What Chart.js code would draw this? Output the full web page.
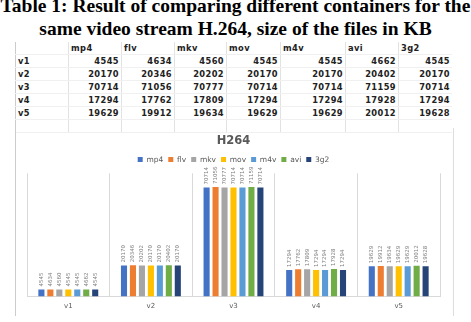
<!DOCTYPE html>
<html>
<head>
<meta charset="utf-8">
<script src="https://cdn.jsdelivr.net/npm/chart.js@4"></script>
<style>
  body { margin: 0; background: #fff; width: 471px; height: 322px; overflow: hidden; position: relative; }
  #title { position: absolute; left: -40px; width: 551px; top: -6px; text-align: center; white-space: nowrap;
           font-family: "Liberation Serif", serif; font-weight: bold; font-size: 19.5px; line-height: 23px; color: #000; }
  table { position: absolute; left: 15px; top: 42px; border-collapse: collapse; table-layout: fixed;
          font-family: "DejaVu Sans", sans-serif; font-weight: bold; font-size: 8.3px; letter-spacing: 0.4px; color: #222; }
  td { height: 12px; padding: 0 2px; border-left: 1px solid #e2e2e2; border-bottom: 1px solid #f0f0f0; text-align: right; overflow: hidden; }
  td:first-child { text-align: left; border-left: 1px solid #ccc; }
  tr.head td { text-align: left; font-weight: bold; }
  #box { position: absolute; left: 15px; top: 128px; width: 437px; height: 188px; border-left: 1px solid #ccc; border-right: 1px solid #ddd; }
</style>
</head>
<body>
<div id="title">Table 1: Result of comparing different containers for the<br>same video stream H.264, size of the files in KB</div>
<table id="tbl"></table>
<div id="box"><canvas id="myChart" width="437" height="188"></canvas></div>
<script>
const categories = ['v1', 'v2', 'v3', 'v4', 'v5']
const containers = ['mp4', 'flv', 'mkv', 'mov', 'm4v', 'avi', '3g2']
const mp4 = [4545, 20170, 70714, 17294, 19629]
const flv = [4634, 20346, 71056, 17762, 19912]
const mkv = [4560, 20202, 70777, 17809, 19634]
const mov = [4545, 20170, 70714, 17294, 19629]
const m4v = [4545, 20170, 70714, 17294, 19629]
const avi = [4662, 20402, 71159, 17928, 20012]
const g32 = [4545, 20170, 70714, 17294, 19628]

const series = [mp4, flv, mkv, mov, m4v, avi, g32]
const colors = ['#4472C4', '#ED7D31', '#A5A5A5', '#FFC000', '#5B9BD5', '#70AD47', '#264478']
const colWidths = [53, 53, 53, 52, 54, 65, 53, 54]

// table above the chart
const tbl = document.getElementById('tbl')
let html = '<tr class="head">' + ['', ...containers].map((c, i) => `<td style="width:${colWidths[i] - 5}px">${c}</td>`).join('') + '</tr>'
categories.forEach((cat, r) => {
  html += '<tr><td>' + cat + '</td>' + series.map(s => '<td>' + s[r] + '</td>').join('') + '</tr>'
})
html += '<tr>' + colWidths.map(() => '<td></td>').join('') + '</tr>'
tbl.innerHTML = html

// rotated value labels above each bar
const barLabels = {
  id: 'barLabels',
  afterDatasetsDraw(chart) {
    const ctx = chart.ctx
    ctx.save()
    ctx.font = '5.5px "DejaVu Sans"'
    ctx.fillStyle = '#7f7f7f'
    ctx.textAlign = 'left'
    ctx.textBaseline = 'middle'
    chart.data.datasets.forEach((ds, i) => {
      chart.getDatasetMeta(i).data.forEach((bar, j) => {
        ctx.save()
        ctx.translate(bar.x, bar.y - 3)
        ctx.rotate(-Math.PI / 2)
        ctx.fillText(ds.data[j], 0, 0)
        ctx.restore()
      })
    })
    ctx.restore()
  }
}

new Chart(document.getElementById('myChart'), {
  type: 'bar',
  data: {
    labels: categories,
    datasets: containers.map((name, i) => ({
      label: name,
      data: series[i],
      backgroundColor: colors[i],
      categoryPercentage: 0.76,
      barPercentage: 0.68
    }))
  },
  plugins: [barLabels],
  options: {
    responsive: false,
    animation: false,
    layout: { padding: { left: 11, right: 13, top: 0, bottom: 1 } },
    plugins: {
      title: {
        display: true,
        text: 'H264',
        color: '#595959',
        font: { family: 'DejaVu Sans', size: 11.5, weight: 'bold' },
        padding: { top: 6, bottom: 3 }
      },
      legend: {
        labels: {
          boxWidth: 5, boxHeight: 5, padding: 5,
          color: '#595959',
          font: { family: 'DejaVu Sans', size: 7.5 }
        }
      },
      tooltip: { enabled: false }
    },
    scales: {
      x: {
        grid: { offset: true, color: '#d9d9d9', drawTicks: false },
        border: { color: '#d9d9d9' },
        ticks: { color: '#595959', font: { family: 'DejaVu Sans', size: 7 }, padding: 5 }
      },
      y: {
        display: false,
        min: 0,
        max: 80000
      }
    }
  }
})
</script>
</body>
</html>
